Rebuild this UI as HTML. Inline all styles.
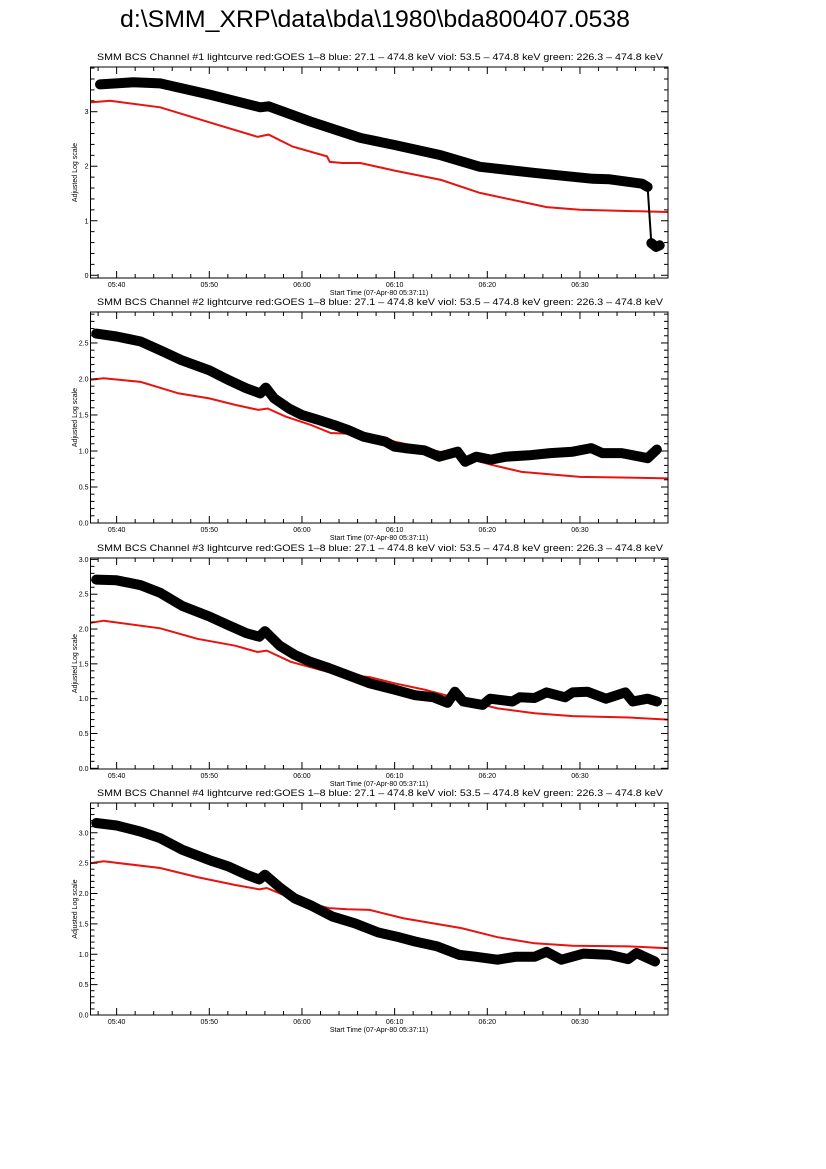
<!DOCTYPE html>
<html><head><meta charset="utf-8"><style>
html,body{margin:0;padding:0;background:#fff;}
svg{display:block;font-family:"Liberation Sans",sans-serif;}
</style></head><body>
<svg id="chart" width="826" height="1169" viewBox="0 0 826 1169" xmlns="http://www.w3.org/2000/svg">
<rect width="826" height="1169" fill="#fff"/>
<text x="120" y="27" font-size="24" textLength="510" lengthAdjust="spacingAndGlyphs">d:\SMM_XRP\data\bda\1980\bda800407.0538</text>
</svg>
<script>
// time in minutes after 05:00
const xTickLabels = ["05:40","05:50","06:00","06:10","06:20","06:30"];
const xTickMinutes = [40,50,60,70,80,90];
const xDomain = [37.18, 99.5];

const p1BlackT = [38.2,41.8,44.7,50.1,55.5,56.4,60.9,66.3,70,75,79.2,85,91.4,93.2,96.7,97.3,97.7,98.2,98.6];
const p1BlackV = [3.50,3.54,3.52,3.31,3.08,3.10,2.82,2.52,2.39,2.20,1.99,1.88,1.77,1.76,1.68,1.62,0.59,0.52,0.55];
const p1RedT = [37.2,39.3,44.7,50.1,55.2,56.4,59,62.7,63.0,64.4,66.3,70,75,79.2,86.4,90,99.5];
const p1RedV = [3.17,3.20,3.08,2.80,2.54,2.58,2.36,2.18,2.08,2.06,2.06,1.92,1.75,1.51,1.25,1.20,1.16];

const p2BlackT = [37.8,40,42.6,45,47,50,52,54,55.5,56.1,57,58.6,60,61.8,63.5,65,66.6,69,70,71.1,73.2,74.8,76.8,77.6,78.8,80.4,82,84.5,86.8,89.2,91.2,92.4,94.5,96.5,97.3,98.3];
const p2BlackV = [2.63,2.59,2.52,2.38,2.26,2.12,1.99,1.87,1.80,1.88,1.73,1.59,1.50,1.43,1.36,1.29,1.20,1.13,1.06,1.04,1.01,0.92,0.99,0.85,0.92,0.88,0.92,0.94,0.97,0.99,1.04,0.97,0.97,0.92,0.90,1.02];
const p2RedT = [37.2,38.6,42.6,46.7,50,52.8,55.3,56.3,58.2,61,63.1,65.1,67.5,70,73.2,77.2,80.4,83.7,87.3,90,95.3,99.5];
const p2RedV = [1.99,2.01,1.96,1.80,1.73,1.64,1.57,1.59,1.48,1.36,1.25,1.24,1.21,1.13,1.04,0.92,0.81,0.71,0.67,0.64,0.63,0.62];

const p3BlackT = [37.8,40,42.6,44.7,47.1,50,52,54,55.4,56,57.6,59.2,60.9,62.9,64.9,67.3,70,72.2,74.2,75.7,76.5,77.4,79.5,80.3,82.7,83.5,85.1,86.4,88.4,89.2,90.8,92.8,94.9,95.7,97.3,98.3];
const p3BlackV = [2.71,2.70,2.63,2.52,2.33,2.18,2.06,1.94,1.89,1.97,1.76,1.63,1.53,1.44,1.34,1.22,1.13,1.05,1.02,0.94,1.10,0.96,0.91,1.00,0.96,1.02,1.01,1.09,1.02,1.09,1.10,1.00,1.09,0.96,1.00,0.96];
const p3RedT = [37.2,38.6,44.7,48.7,52.8,55.2,56.2,58.8,62.9,64.9,67.3,70,73.2,77.2,81.1,85.1,89.2,95.3,99.5];
const p3RedV = [2.09,2.12,2.01,1.86,1.76,1.67,1.69,1.53,1.38,1.34,1.31,1.22,1.13,0.99,0.86,0.79,0.75,0.73,0.70];

const p4BlackT = [37.8,40,42.6,44.7,47.1,50,52,54,55.4,56,57.6,59.2,60.9,63.3,65.7,68.2,70.2,72.2,74.6,77,78.7,81.1,83.1,85.1,86.4,88,90.4,93.2,95.2,96.1,98.1];
const p4BlackV = [3.16,3.12,3.02,2.91,2.72,2.55,2.45,2.31,2.23,2.31,2.10,1.92,1.81,1.62,1.51,1.36,1.29,1.21,1.13,0.99,0.96,0.91,0.96,0.96,1.04,0.91,1.01,0.99,0.92,1.02,0.88];
const p4RedT = [37.2,38.6,44.7,48.7,52.8,55.4,56.2,59.2,62.9,64.9,67.3,71,77.2,81.1,85.1,89.2,95.3,99.5];
const p4RedV = [2.50,2.53,2.42,2.27,2.14,2.07,2.09,1.90,1.76,1.74,1.73,1.59,1.43,1.28,1.18,1.14,1.13,1.10];

const p1YTicks = [0,1,2,3];
const p1YLabels = ["0","1","2","3"];
const p234YTicks = [0,0.5,1.0,1.5,2.0,2.5,3.0];
const p234YLabels = ["0.0","0.5","1.0","1.5","2.0","2.5","3.0"];

const NS = "http://www.w3.org/2000/svg";
const svg = document.getElementById("chart");
const X0 = 90.5, X1 = 668;
function mk(tag, attrs, parent){ const e=document.createElementNS(NS,tag); for(const k in attrs) e.setAttribute(k,attrs[k]); (parent||svg).appendChild(e); return e; }

const panels = [
 {n:1, top:67, bot:278, dom:[-0.05,3.82], minor:0.2, ticks:p1YTicks, labels:p1YLabels, bt:p1BlackT, bv:p1BlackV, rt:p1RedT, rv:p1RedV},
 {n:2, top:312, bot:523, dom:[0,2.93], minor:0.1, ticks:p234YTicks, labels:p234YLabels, bt:p2BlackT, bv:p2BlackV, rt:p2RedT, rv:p2RedV},
 {n:3, top:558, bot:769, dom:[-0.01,3.02], minor:0.1, ticks:p234YTicks, labels:p234YLabels, bt:p3BlackT, bv:p3BlackV, rt:p3RedT, rv:p3RedV},
 {n:4, top:803, bot:1015, dom:[0,3.49], minor:0.1, ticks:p234YTicks, labels:p234YLabels, bt:p4BlackT, bv:p4BlackV, rt:p4RedT, rv:p4RedV}
];

function xs(t){ return X0 + (t - xDomain[0])/(xDomain[1]-xDomain[0])*(X1-X0); }

panels.forEach(p=>{
  const g = mk("g",{});
  
  
  const ys = v => p.bot - (v - p.dom[0])/(p.dom[1]-p.dom[0])*(p.bot-p.top);
  const title = mk("text",{x:97,y:p.top-7,"font-size":9,textLength:566,lengthAdjust:"spacingAndGlyphs"},g);
  
  
  title.textContent = "SMM BCS Channel #"+p.n+" lightcurve  red:GOES 1\u20138  blue: 27.1 \u2013 474.8 keV  viol: 53.5 \u2013 474.8 keV  green: 226.3 \u2013 474.8 keV";
  const cid = "clip"+p.n;
  const cp = mk("clipPath",{id:cid},g); mk("rect",{x:X0,y:p.top,width:X1-X0,height:p.bot-p.top},cp);
  const red = mk("polyline",{points:p.rt.map((t,i)=>xs(t).toFixed(1)+","+ys(p.rv[i]).toFixed(1)).join(" "),fill:"none",stroke:"#e8130e","stroke-width":2,"clip-path":"url(#"+cid+")"},g);
  
  
  const blk = mk("polyline",{points:p.bt.map((t,i)=>xs(t).toFixed(1)+","+ys(p.bv[i]).toFixed(1)).join(" "),fill:"none",stroke:"#000","stroke-width":10,"stroke-linecap":"round","stroke-linejoin":"round","clip-path":"url(#"+cid+")"},g);
  
  
  if(p.n===1){
    const i = p.bt.indexOf(97.3);
    const dl = mk("line",{x1:xs(p.bt[i]),y1:ys(p.bv[i]),x2:xs(p.bt[i+1]),y2:ys(p.bv[i+1]),stroke:"#000","stroke-width":2},g);
    
    
    blk.setAttribute("points", p.bt.slice(0,i+1).map((t,k)=>xs(t).toFixed(1)+","+ys(p.bv[k]).toFixed(1)).join(" "));
    const blk2 = mk("polyline",{points:p.bt.slice(i+1).map((t,k)=>xs(t).toFixed(1)+","+ys(p.bv[i+1+k]).toFixed(1)).join(" "),fill:"none",stroke:"#000","stroke-width":10,"stroke-linecap":"round","stroke-linejoin":"round"},g);
    
    
  }
  const fr = mk("rect",{x:X0,y:p.top,width:X1-X0,height:p.bot-p.top,fill:"none",stroke:"#000","stroke-width":1},g);
  
  
  for(let m=38; m<=99; m+=2){
    const x = xs(m); const major = (m%10===0); const L = major?7:4;
    mk("line",{x1:x,y1:p.bot,x2:x,y2:p.bot-L,stroke:"#000","stroke-width":1},g);
    mk("line",{x1:x,y1:p.top,x2:x,y2:p.top+L,stroke:"#000","stroke-width":1},g);
  }
  xTickLabels.forEach((lab,i)=>{
    const t = mk("text",{x:xs(xTickMinutes[i]),y:p.bot+9,"font-size":7,"text-anchor":"middle"},g);
    
    
    t.textContent = lab;
  });
  const xl = mk("text",{x:379,y:p.bot+17,"font-size":7,"text-anchor":"middle"},g);
  
  
  xl.textContent = "Start Time (07-Apr-80 05:37:11)";
  for(let v=0; v<=p.dom[1]+1e-6; v+=p.minor){
    const y = ys(v); if(y<p.top) break;
    const major = p.ticks.some(tv=>Math.abs(tv-v)<1e-6); const L = major?7:4;
    mk("line",{x1:X0,y1:y,x2:X0+L,y2:y,stroke:"#000","stroke-width":1},g);
    mk("line",{x1:X1,y1:y,x2:X1-L,y2:y,stroke:"#000","stroke-width":1},g);
  }
  p.ticks.forEach((v,i)=>{
    const y = ys(v); if(y<p.top-2) return;
    const t = mk("text",{x:X0-2,y:y+2.5,"font-size":7,"text-anchor":"end"},g);
    
    
    t.textContent = p.labels[i];
  });
  const yc = (p.top+p.bot)/2;
  const yl = mk("text",{x:0,y:0,"font-size":7,"text-anchor":"middle",transform:"translate(77,"+yc+") rotate(-90)"},g);
  
  
  yl.textContent = "Adjusted Log scale";
});
</script>
</body></html>
